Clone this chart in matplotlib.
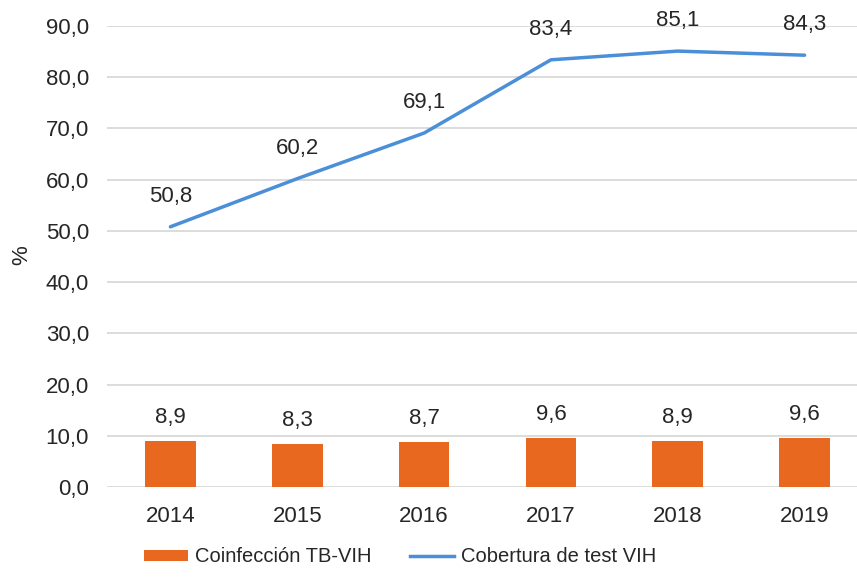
import matplotlib
matplotlib.use("Agg")
import matplotlib.pyplot as plt
from matplotlib.patches import Patch
from matplotlib.lines import Line2D

years = ["2014", "2015", "2016", "2017", "2018", "2019"]
coinfeccion = [8.9, 8.3, 8.7, 9.6, 8.9, 9.6]
cobertura = [50.8, 60.2, 69.1, 83.4, 85.1, 84.3]
yticks = [0, 10, 20, 30, 40, 50, 60, 70, 80, 90]

ORANGE = "#E8681F"
BLUE = "#4A8FD8"
TXT = "#262626"

plt.rcParams["font.family"] = ["Liberation Sans", "DejaVu Sans"]
fs = 16
fs_leg = 14.5

fig = plt.figure(figsize=(8.57, 5.78), dpi=100)
ax = fig.add_axes([107/857, 1-487/578, 761/857, (487-26)/578])

x = list(range(len(years)))
ax.bar(x, coinfeccion, width=0.4, color=ORANGE, zorder=3)
ax.plot(x, cobertura, color=BLUE, lw=2.5, zorder=4, solid_capstyle="round")

for xi, v in zip(x, coinfeccion):
    ax.annotate(f"{v:.1f}".replace(".", ","), (xi, v), xytext=(0, 17),
                textcoords="offset points", ha="center", va="center",
                fontsize=fs, color=TXT)
for xi, v in zip(x, cobertura):
    ax.annotate(f"{v:.1f}".replace(".", ","), (xi, v), xytext=(0, 22),
                textcoords="offset points", ha="center", va="center",
                fontsize=fs, color=TXT)

ax.set_xlim(-0.5, 5.5)
ax.set_ylim(0, 90)
ax.set_yticks(yticks)
ax.set_yticklabels([f"{t:.1f}".replace(".", ",") for t in yticks])
ax.set_xticks(x)
ax.set_xticklabels(years)
ax.tick_params(axis="y", length=0, pad=13, labelsize=fs, labelcolor=TXT)
ax.tick_params(axis="x", length=0, pad=13.5, labelsize=fs, labelcolor=TXT)
ax.grid(axis="y", color="#D9D9D9", lw=1.3, zorder=0)
for s in ax.spines.values():
    s.set_visible(False)

fig.text(22/857, 1-255/578, "%", rotation=90, ha="center", va="center",
         fontsize=fs, color=TXT)

handles = [Patch(facecolor=ORANGE, edgecolor="none"),
           Line2D([0], [0], color=BLUE, lw=2.5)]
fig.legend(handles, ["Coinfección TB-VIH", "Cobertura de test VIH"],
           loc="center", bbox_to_anchor=(400/857, 1-557/578), ncol=2,
           frameon=False, fontsize=fs_leg, handlelength=2.2, handleheight=0.5,
           handletextpad=0.35, columnspacing=1.9, labelcolor=TXT)

fig.savefig("out.png", dpi=100)
